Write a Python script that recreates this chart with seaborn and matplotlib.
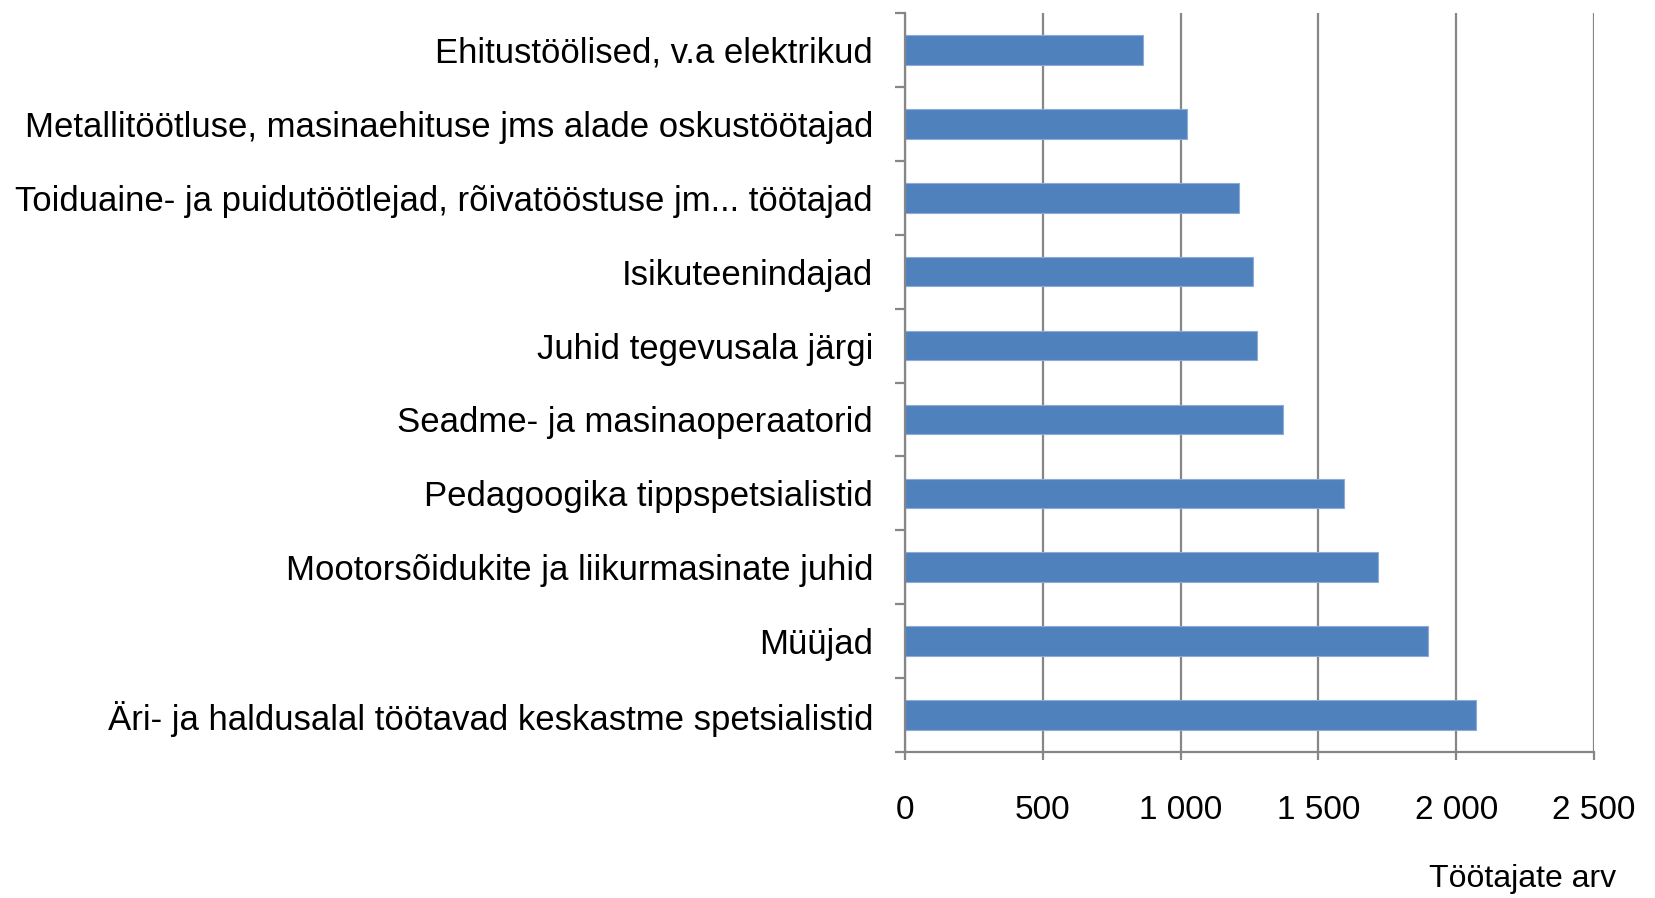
"""
Horizontal bar chart: number of employees by occupation group.
"""
import matplotlib
matplotlib.use("Agg")
import matplotlib.pyplot as plt
import matplotlib.ticker as mticker
import pandas as pd
import seaborn as sns

categories = [
    "Ehitustöölised, v.a elektrikud",
    "Metallitöötluse, masinaehituse jms alade oskustöötajad",
    "Toiduaine- ja puidutöötlejad, rõivatööstuse jm... töötajad",
    "Isikuteenindajad",
    "Juhid tegevusala järgi",
    "Seadme- ja masinaoperaatorid",
    "Pedagoogika tippspetsialistid",
    "Mootorsõidukite ja liikurmasinate juhid",
    "Müüjad",
    "Äri- ja haldusalal töötavad keskastme spetsialistid",
]
values = [865, 1024, 1211, 1264, 1277, 1372, 1591, 1717, 1896, 2073]
x_ticks = [0, 500, 1000, 1500, 2000, 2500]
x_label = "Töötajate arv"

BAR_COLOR = "#4F81BD"
GRID_COLOR = "#868686"

sns.set_theme(style="white")
plt.rcParams["font.family"] = ["Liberation Sans", "DejaVu Sans"]

df = pd.DataFrame({"group": categories, "count": values})

fig = plt.figure(figsize=(16.56, 8.98), dpi=100)
ax = fig.add_axes([0.5465, 0.1626, 0.4161, 0.8229])

sns.barplot(data=df, x="count", y="group", orient="h", color=BAR_COLOR,
            width=0.4, edgecolor="#8EAAD6", linewidth=0.8, saturation=1, ax=ax)

ax.set_xlim(0, 2500)
ax.set_ylim(9.5, -0.5)
ax.set_xticks(x_ticks)
ax.xaxis.set_major_formatter(
    mticker.FuncFormatter(lambda v, _: f"{int(v):,}".replace(",", " ")))
ax.grid(axis="x", color=GRID_COLOR, linewidth=1.6)
ax.set_axisbelow(True)

# category separators as ticks on the left spine
ax.set_yticks([i - 0.5 for i in range(len(categories) + 1)], minor=True)
ax.tick_params(axis="y", which="minor", length=7, width=1.6, color=GRID_COLOR, left=True)
ax.tick_params(axis="y", which="major", length=0, pad=23, labelsize=25,
               labelcolor="black")
ax.tick_params(axis="x", which="major", length=6, width=1.6, color=GRID_COLOR,
               bottom=True, pad=25, labelsize=24, labelcolor="black")

for side in ["top", "right"]:
    ax.spines[side].set_visible(False)
for side in ["left", "bottom"]:
    ax.spines[side].set_color(GRID_COLOR)
    ax.spines[side].set_linewidth(1.6)

ax.set_xlabel("")
ax.set_ylabel("")
fig.text(0.976, 0.021, x_label, ha="right", va="center", fontsize=23, color="black")

fig.savefig("out.png", dpi=100)
